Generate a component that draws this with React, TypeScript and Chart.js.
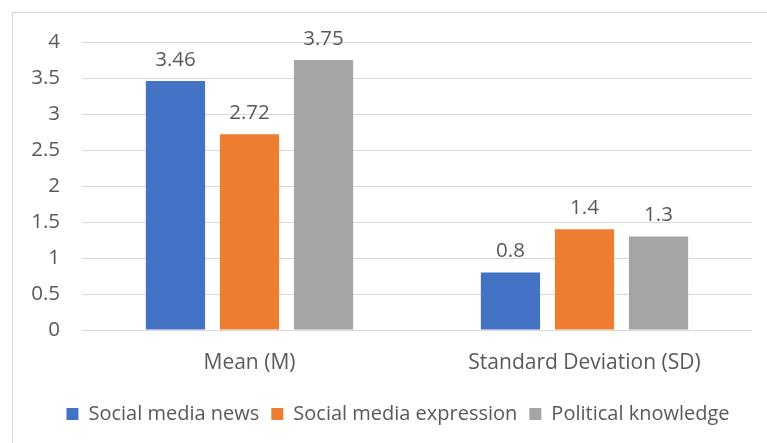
import React, { useEffect, useRef } from "react";
import { Chart, registerables } from "chart.js";

Chart.register(...registerables);

const categories = ["Mean (M)", "Standard Deviation (SD)"];
const seriesNames = ["Social media news", "Social media expression", "Political knowledge"];
const socialMediaNews = [3.46, 0.8];
const socialMediaExpression = [2.72, 1.4];
const politicalKnowledge = [3.75, 1.3];
const seriesColors = ["#4472C4", "#ED7D31", "#A5A5A5"];
const yMin = 0;
const yMax = 4;
const yStep = 0.5;

const FONT = "'Open Sans', sans-serif";
const TEXT = "#595959";
const GRID = "#D9D9D9";

const dataLabelPlugin = {
  id: "dataLabels",
  afterDatasetsDraw(chart: any) {
    const ctx = chart.ctx;
    ctx.save();
    ctx.font = `20.5px ${FONT}`;
    ctx.fillStyle = TEXT;
    ctx.textAlign = "center";
    ctx.textBaseline = "alphabetic";
    chart.data.datasets.forEach((ds: any, i: number) => {
      const meta = chart.getDatasetMeta(i);
      meta.data.forEach((bar: any, j: number) => {
        ctx.fillText(String(ds.data[j]), bar.x, bar.y - 15);
      });
    });
    ctx.restore();
  },
};

export default function App() {
  const canvasRef = useRef<HTMLCanvasElement>(null);

  useEffect(() => {
    const seriesData = [socialMediaNews, socialMediaExpression, politicalKnowledge];
    const chart = new Chart(canvasRef.current!, {
      type: "bar",
      data: {
        labels: categories,
        datasets: seriesNames.map((name, i) => ({
          label: name,
          data: seriesData[i],
          backgroundColor: seriesColors[i],
          borderWidth: 0,
          barPercentage: 0.8,
          categoryPercentage: 0.663,
        })),
      },
      options: {
        responsive: false,
        animation: false,
        devicePixelRatio: 1,
        layout: { padding: { left: 44, right: 15, top: 42, bottom: 9 } },
        scales: {
          x: {
            grid: { display: false, drawTicks: false },
            border: { display: false },
            ticks: { color: TEXT, font: { family: FONT, size: 21 }, padding: 20 },
            afterFit(scale: any) {
              scale.height = 62;
            },
          },
          y: {
            min: yMin,
            max: yMax,
            grid: { color: GRID, lineWidth: 1, drawTicks: false },
            border: { display: false },
            ticks: {
              stepSize: yStep,
              color: TEXT,
              font: { family: FONT, size: 20.5 },
              padding: 22,
              callback: (v: any) => String(v),
            },
            afterFit(scale: any) {
              scale.width = 38;
              scale._computeLabelArea = () => undefined;
            },
          },
        },
        plugins: {
          legend: {
            position: "bottom",
            labels: {
              boxWidth: 12,
              boxHeight: 12,
              padding: 12,
              color: TEXT,
              font: { family: FONT, size: 20 },
            },
          },
          tooltip: { enabled: false },
        },
      },
      plugins: [dataLabelPlugin],
    });
    return () => chart.destroy();
  }, []);

  return (
    <div
      style={{
        position: "fixed",
        left: 0,
        top: 0,
        width: 767,
        height: 443,
        overflow: "hidden",
        background: "#fff",
      }}
    >
      <div
        style={{
          position: "absolute",
          left: 12,
          top: 12,
          width: 800,
          height: 500,
          border: `1px solid ${GRID}`,
          boxSizing: "border-box",
        }}
      />
      <canvas
        ref={canvasRef}
        width={767}
        height={443}
        style={{ position: "absolute", left: 0, top: 0, width: 767, height: 443 }}
      />
    </div>
  );
}
